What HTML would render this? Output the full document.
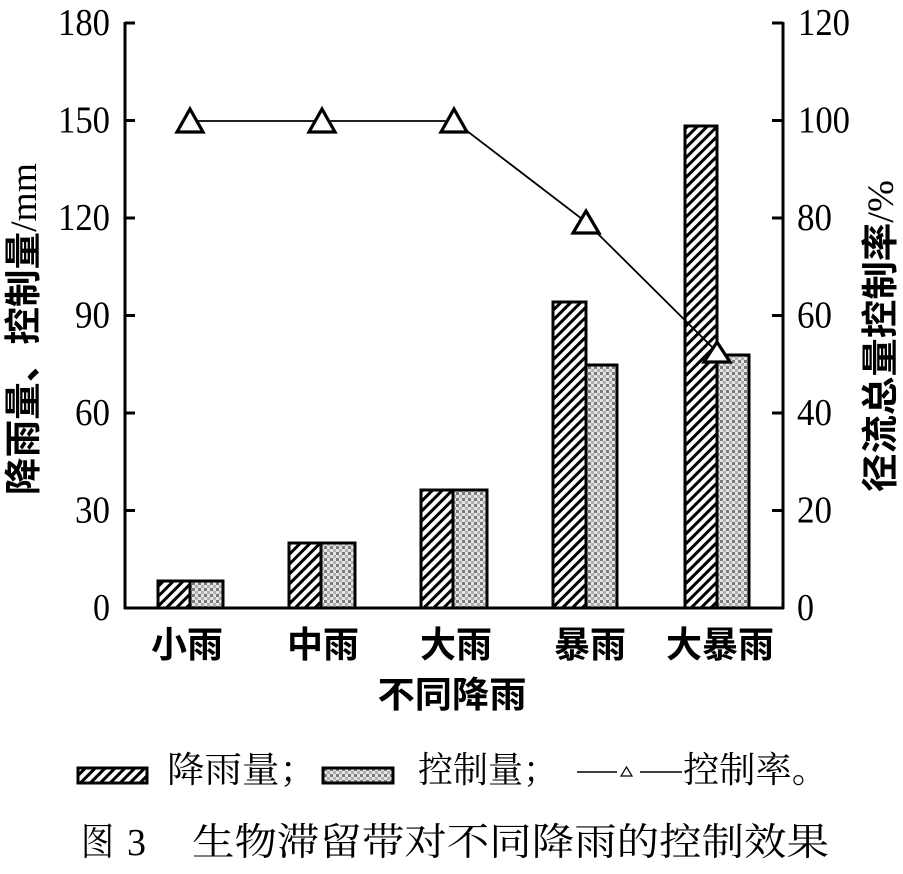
<!DOCTYPE html>
<html>
<head>
<meta charset="utf-8">
<style>
html,body{margin:0;padding:0;background:#fff;}
svg{display:block;}
.tick{font-family:"Liberation Serif","Noto Serif CJK SC",serif;font-size:38px;fill:#000;}
.cat{font-family:"Liberation Sans","Noto Sans CJK SC",sans-serif;font-size:36px;font-weight:700;fill:#000;}
.ttl{font-family:"Liberation Sans","Noto Sans CJK SC",sans-serif;font-size:37px;font-weight:700;fill:#000;}
.ser{font-family:"Liberation Serif","Noto Serif CJK SC",serif;fill:#000;}
</style>
</head>
<body>
<svg width="903" height="874" viewBox="0 0 903 874" xmlns="http://www.w3.org/2000/svg">
<defs>
  <pattern id="hatch" patternUnits="userSpaceOnUse" width="7" height="7" patternTransform="rotate(45)">
    <rect width="7" height="7" fill="#fff"/>
    <rect x="0" y="0" width="3" height="7" fill="#000"/>
  </pattern>
  <pattern id="dots" patternUnits="userSpaceOnUse" width="6" height="6">
    <rect width="6" height="6" fill="#e4e4e4"/>
    <rect x="0" y="0" width="3" height="3" fill="#7a7a7a"/>
    <rect x="3" y="3" width="3" height="3" fill="#b0b0b0"/>
  </pattern>
</defs>

<!-- bars -->
<g stroke="#000" stroke-width="3">
  <rect x="158" y="581" width="32" height="27" fill="url(#hatch)"/>
  <rect x="190" y="581" width="33" height="27" fill="url(#dots)"/>
  <rect x="289" y="543" width="32" height="65" fill="url(#hatch)"/>
  <rect x="321" y="543" width="34" height="65" fill="url(#dots)"/>
  <rect x="421" y="490" width="32" height="118" fill="url(#hatch)"/>
  <rect x="453" y="490" width="34" height="118" fill="url(#dots)"/>
  <rect x="553" y="302" width="33" height="306" fill="url(#hatch)"/>
  <rect x="586" y="365" width="31" height="243" fill="url(#dots)"/>
  <rect x="685" y="126" width="32" height="482" fill="url(#hatch)"/>
  <rect x="717" y="355" width="32" height="253" fill="url(#dots)"/>
</g>

<!-- axes -->
<g stroke="#000" stroke-width="3" fill="none">
  <line x1="125" y1="22" x2="125" y2="609"/>
  <line x1="783" y1="22" x2="783" y2="609"/>
  <line x1="124" y1="608" x2="784" y2="608"/>
  <!-- left ticks -->
  <line x1="125" y1="23" x2="135" y2="23"/>
  <line x1="125" y1="120.5" x2="135" y2="120.5"/>
  <line x1="125" y1="218" x2="135" y2="218"/>
  <line x1="125" y1="315.5" x2="135" y2="315.5"/>
  <line x1="125" y1="413" x2="135" y2="413"/>
  <line x1="125" y1="510.5" x2="135" y2="510.5"/>
  <!-- right ticks -->
  <line x1="772" y1="23" x2="783" y2="23"/>
  <line x1="772" y1="120.5" x2="783" y2="120.5"/>
  <line x1="772" y1="218" x2="783" y2="218"/>
  <line x1="772" y1="315.5" x2="783" y2="315.5"/>
  <line x1="772" y1="413" x2="783" y2="413"/>
  <line x1="772" y1="510.5" x2="783" y2="510.5"/>
</g>

<!-- left tick labels -->
<g class="tick" text-anchor="end">
  <text x="110" y="35" textLength="52" lengthAdjust="spacingAndGlyphs">180</text>
  <text x="110" y="132.5" textLength="52" lengthAdjust="spacingAndGlyphs">150</text>
  <text x="110" y="230" textLength="52" lengthAdjust="spacingAndGlyphs">120</text>
  <text x="110" y="327.5" textLength="35" lengthAdjust="spacingAndGlyphs">90</text>
  <text x="110" y="425" textLength="35" lengthAdjust="spacingAndGlyphs">60</text>
  <text x="110" y="522.5" textLength="35" lengthAdjust="spacingAndGlyphs">30</text>
  <text x="110" y="620" textLength="17" lengthAdjust="spacingAndGlyphs">0</text>
</g>
<!-- right tick labels -->
<g class="tick">
  <text x="798" y="35" textLength="52" lengthAdjust="spacingAndGlyphs">120</text>
  <text x="798" y="132.5" textLength="52" lengthAdjust="spacingAndGlyphs">100</text>
  <text x="797" y="230" textLength="35" lengthAdjust="spacingAndGlyphs">80</text>
  <text x="797" y="327.5" textLength="35" lengthAdjust="spacingAndGlyphs">60</text>
  <text x="797" y="425" textLength="35" lengthAdjust="spacingAndGlyphs">40</text>
  <text x="797" y="522.5" textLength="35" lengthAdjust="spacingAndGlyphs">20</text>
  <text x="797" y="620" textLength="17" lengthAdjust="spacingAndGlyphs">0</text>
</g>

<!-- axis titles -->
<text class="ttl" transform="translate(36,329) rotate(-90)" text-anchor="middle" textLength="332" lengthAdjust="spacingAndGlyphs">降雨量、控制量<tspan font-family="Liberation Serif" font-weight="400">/mm</tspan></text>
<text class="ttl" transform="translate(893,336) rotate(-90)" text-anchor="middle" textLength="312" lengthAdjust="spacingAndGlyphs">径流总量控制率<tspan font-family="Liberation Serif" font-weight="400">/%</tspan></text>

<!-- category labels -->
<g class="cat" text-anchor="middle">
  <text x="187" y="657">小雨</text>
  <text x="323" y="657">中雨</text>
  <text x="456" y="657">大雨</text>
  <text x="590" y="657">暴雨</text>
  <text x="720" y="657">大暴雨</text>
</g>
<text class="cat" x="452" y="707" text-anchor="middle" textLength="149" lengthAdjust="spacingAndGlyphs">不同降雨</text>

<!-- control rate line -->
<polyline points="190,121 322,121 454,121 586,222 717,352" fill="none" stroke="#000" stroke-width="1.8"/>
<g fill="#fff" stroke="#000" stroke-width="3.2" stroke-linejoin="miter">
  <polygon points="190,109 203,132 177,132"/>
  <polygon points="322,109 335,132 309,132"/>
  <polygon points="454,109 467,132 441,132"/>
  <polygon points="586,211 599,233 573,233"/>
  <polygon points="717,342 730,362 704,362"/>
</g>

<!-- legend -->
<rect x="78" y="768" width="69" height="15" fill="url(#hatch)" stroke="#000" stroke-width="3"/>
<text class="ser" x="167" y="782" font-size="36" textLength="150" lengthAdjust="spacingAndGlyphs">降雨量；</text>
<rect x="323" y="768" width="70" height="15" fill="url(#dots)" stroke="#000" stroke-width="3"/>
<text class="ser" x="418" y="782" font-size="36" textLength="140" lengthAdjust="spacingAndGlyphs">控制量；</text>
<line x1="577" y1="772" x2="617" y2="772" stroke="#000" stroke-width="1.5"/>
<polygon points="626.5,767 632,776 621,776" fill="none" stroke="#000" stroke-width="1.2"/>
<line x1="640" y1="772" x2="682" y2="772" stroke="#000" stroke-width="1.5"/>
<text class="ser" x="683" y="782" font-size="36" textLength="145" lengthAdjust="spacingAndGlyphs">控制率。</text>

<!-- caption -->
<text class="ser" x="81" y="855" font-size="38" textLength="33" lengthAdjust="spacingAndGlyphs">图</text>
<text class="ser" x="127" y="855" font-size="38">3</text>
<text class="ser" x="192" y="855" font-size="38" textLength="637" lengthAdjust="spacingAndGlyphs">生物滞留带对不同降雨的控制效果</text>
</svg>
</body>
</html>
